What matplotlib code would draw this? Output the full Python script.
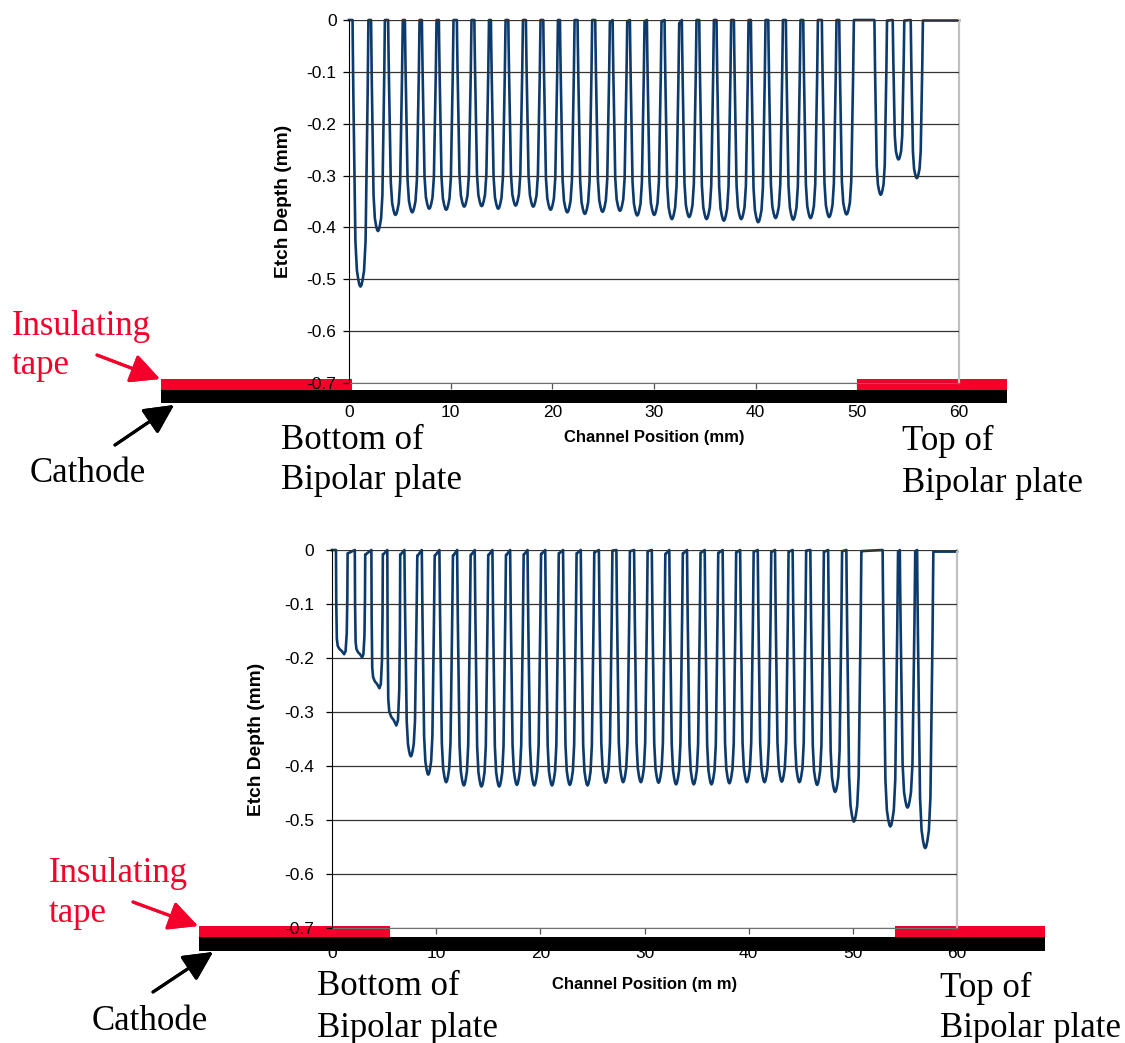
import numpy as np
import matplotlib
matplotlib.use('Agg')
import matplotlib.pyplot as plt
from matplotlib.patches import Rectangle

plt.rcParams['font.family'] = ['Liberation Sans', 'DejaVu Sans']
plt.rcParams['axes.unicode_minus'] = False

W, H = 1125, 1043

# -------------------------------
# channel data
# -------------------------------
# top panel: centre (mm), depth (mm), half width (mm), shape
top_centers = [1.13, 2.85, 4.57, 6.22, 7.89, 9.56, 11.33, 13.05, 14.68, 16.39,
               18.12, 19.83, 21.47, 23.2, 24.94, 26.65, 28.35, 30.02, 31.76, 33.46,
               35.17, 36.87, 38.58, 40.25, 41.96, 43.69, 45.4, 47.23, 48.94,
               52.3, 54.05, 55.85]
top_depths = [-0.514, -0.407, -0.376, -0.371, -0.364, -0.366, -0.36, -0.359, -0.364, -0.358,
              -0.36, -0.366, -0.371, -0.374, -0.37, -0.368, -0.377, -0.376, -0.384, -0.38,
              -0.384, -0.387, -0.384, -0.39, -0.382, -0.385, -0.382, -0.38, -0.375,
              -0.337, -0.269, -0.305]
top_halfw = [0.78, 0.68, 0.72, 0.72, 0.72, 0.72, 0.72, 0.72, 0.72, 0.72,
             0.72, 0.72, 0.72, 0.72, 0.72, 0.72, 0.72, 0.72, 0.72, 0.72,
             0.72, 0.72, 0.72, 0.72, 0.72, 0.72, 0.72, 0.72, 0.72,
             0.62, 0.57, 0.6]
top_shapes = ['U'] * 32
# level of the land just right of each channel
top_lands = [0.0] * 14 + [-0.004] + [-0.002] * 3 + [-0.006] + [0.0] * 10 + [-0.001] * 3

# bottom panel
bot_centers = [0.94, 2.69, 4.33, 5.93, 7.57, 9.24, 10.96, 12.66, 14.35, 16.05,
               17.75, 19.42, 21.12, 22.83, 24.53, 26.27, 27.95, 29.65, 31.35, 33.03,
               34.73, 36.43, 38.15, 39.83, 41.52, 43.18, 44.87, 46.57, 48.3,
               50.1, 53.6, 55.25, 56.95]
bot_depths = [-0.193, -0.199, -0.256, -0.325, -0.382, -0.416, -0.43, -0.436, -0.438, -0.438,
              -0.435, -0.436, -0.436, -0.435, -0.436, -0.431, -0.43, -0.43, -0.431, -0.434,
              -0.434, -0.434, -0.432, -0.43, -0.43, -0.429, -0.43, -0.435, -0.448,
              -0.503, -0.512, -0.477, -0.552]
bot_halfw = [0.56, 0.5, 0.55, 0.62, 0.62, 0.62, 0.65, 0.65, 0.65, 0.65,
             0.65, 0.65, 0.65, 0.65, 0.65, 0.65, 0.65, 0.65, 0.65, 0.65,
             0.65, 0.65, 0.65, 0.65, 0.65, 0.65, 0.65, 0.65, 0.67,
             0.72, 0.74, 0.74, 0.78]
bot_shapes = ['flat', 'flat', 'flat', 'flat'] + ['U'] * 29
bot_lands = [-0.006, -0.008, -0.008, -0.008, -0.01, -0.01, -0.01, -0.009, -0.009, -0.009,
             -0.008, -0.007, -0.006, -0.006, -0.004, -0.001, -0.002, -0.002, -0.007, -0.006,
             -0.005, -0.005, -0.004, -0.003, -0.003, -0.003, -0.001, -0.003, -0.002,
             -0.002, -0.003, -0.002, -0.003]

# normalised channel cross sections (position across channel, fraction of depth)
u_t = [-1, -0.97, -0.9, -0.77, -0.64, -0.45, -0.27, -0.12, 0, 0.12, 0.27, 0.45, 0.64, 0.77, 0.9, 0.97, 1]
u_f = [0, 0.1, 0.28, 0.56, 0.83, 0.94, 0.975, 0.995, 1, 0.995, 0.975, 0.94, 0.83, 0.56, 0.28, 0.1, 0]
flat_t = [-1, -0.95, -0.85, -0.7, -0.4, 0, 0.4, 0.65, 0.85, 0.95, 1]
flat_f = [0, 0.5, 0.85, 0.92, 0.95, 0.97, 1.0, 0.97, 0.8, 0.45, 0]
TEMPLATES = {'U': (u_t, u_f), 'flat': (flat_t, flat_f)}

x_ticks = [0, 10, 20, 30, 40, 50, 60]
y_ticks = [0, -0.1, -0.2, -0.3, -0.4, -0.5, -0.6, -0.7]
y_ticklabels = ['0', '-0.1', '-0.2', '-0.3', '-0.4', '-0.5', '-0.6', '-0.7']

LINE_COLOR = '#0d3a6c'
RED = '#f5002a'


def profile(centers, depths, halfw, shapes, lands):
    xs, ys = [0.0], [0.0]
    for c, d, h, s, l in zip(centers, depths, halfw, shapes, lands):
        t, f = TEMPLATES[s]
        xs.extend(c + h * np.array(t))
        ys.extend(d * np.array(f))
        ys[-1] = l
        xs.append(c + h + 0.05)
        ys.append(l)
    xs.append(60.0)
    ys.append(ys[-1])
    return xs, ys


def fpx(x, y):
    # pixel position (from top-left) -> figure fraction
    return x / W, 1 - y / H


def make_panel(rect, centers, depths, halfw, shapes, lands, ypad, xpad, ylab_x, xlab_y, xlab_spaced, tape):
    ax = fig.add_axes(rect)
    xs, ys = profile(centers, depths, halfw, shapes, lands)
    ax.plot(xs, ys, color=LINE_COLOR, lw=1.9, zorder=3, solid_joinstyle='round', clip_on=False)
    ax.set_xlim(0, 60)
    ax.set_ylim(-0.7, 0)
    ax.set_xticks(x_ticks)
    ax.set_yticks(y_ticks)
    ax.set_yticklabels(y_ticklabels)
    ax.yaxis.grid(True, color='#333333', lw=0.9)
    ax.set_axisbelow(True)
    ax.tick_params(axis='y', direction='out', length=4, width=0.9, pad=ypad, labelsize=12.5)
    ax.tick_params(axis='x', direction='out', length=4, width=0.9, color='#555555', pad=xpad, labelsize=12.5)
    ax.spines['top'].set_visible(False)
    ax.spines['right'].set_color('#c0c0c0')
    ax.spines['right'].set_linewidth(1.6)
    ax.spines['bottom'].set_color('#707070')
    ax.spines['left'].set_color('black')
    for sp in ax.spines.values():
        sp.set_zorder(5)
    ax.yaxis.set_zorder(5)
    ax.set_ylabel('Etch Depth (mm)', fontsize=13.8, fontweight='bold')
    ax.yaxis.set_label_coords(ylab_x, 0.5)
    xlab = 'Channel Position (m m)' if xlab_spaced else 'Channel Position (mm)'
    ax.set_xlabel(xlab, fontsize=12, fontweight='bold')
    ax.xaxis.set_label_coords(0.5, xlab_y)

    # insulating tape and cathode bars below the axis
    left, red_r, red_l2, right, y0, y1, y2 = tape
    ax.add_patch(Rectangle((left, y1), red_r - left, y0 - y1, color=RED, clip_on=False, zorder=4, lw=0))
    ax.add_patch(Rectangle((red_l2, y1), right - red_l2, y0 - y1, color=RED, clip_on=False, zorder=4, lw=0))
    ax.add_patch(Rectangle((left, y2), right - left, y1 - y2, color='black', clip_on=False, zorder=4, lw=0))
    return ax


fig = plt.figure(figsize=(W / 100, H / 100), dpi=100)

make_panel([349 / W, 1 - 383 / H, 610 / W, 363 / H],
           top_centers, top_depths, top_halfw, top_shapes, top_lands,
           ypad=5, xpad=12, ylab_x=-0.094, xlab_y=-0.13, xlab_spaced=False,
           tape=(-18.5, 0.3, 49.95, 64.7, -0.692, -0.713, -0.738))
make_panel([332 / W, 1 - 928 / H, 625 / W, 378 / H],
           bot_centers, bot_depths, bot_halfw, bot_shapes, bot_lands,
           ypad=9, xpad=9, ylab_x=-0.107, xlab_y=-0.13, xlab_spaced=True,
           tape=(-12.8, 5.57, 54.0, 68.4, -0.696, -0.717, -0.743))

# -------------------------------
# annotations
# -------------------------------
serif = dict(family=['Liberation Serif', 'DejaVu Serif'], fontsize=25, va='baseline')

labels = [
    (12, 335, 'Insulating', RED), (12, 374, 'tape', RED),
    (30, 482, 'Cathode', 'black'),
    (281, 449, 'Bottom of', 'black'), (281, 489, 'Bipolar plate', 'black'),
    (902, 450, 'Top of', 'black'), (902, 492, 'Bipolar plate', 'black'),
    (49, 882, 'Insulating', RED), (49, 922, 'tape', RED),
    (92, 1030, 'Cathode', 'black'),
    (317, 995, 'Bottom of', 'black'), (317, 1037, 'Bipolar plate', 'black'),
    (940, 997, 'Top of', 'black'), (940, 1037, 'Bipolar plate', 'black'),
]
for x, y, s, c in labels:
    fx, fy = fpx(x, y)
    fig.text(fx, fy, s, color=c, **serif)

arrows = [
    ((97, 355), (160, 379), RED),
    ((115, 445), (174, 405), 'black'),
    ((133, 902), (198, 926), RED),
    ((153, 992), (213, 952), 'black'),
]
for (x0, y0), (x1, y1), c in arrows:
    fig.add_artist(plt.annotate('', xy=fpx(x1, y1), xytext=fpx(x0, y0),
                                xycoords='figure fraction', textcoords='figure fraction',
                                arrowprops=dict(arrowstyle='-|>,head_length=0.9,head_width=0.45',
                                                color=c, lw=2.2, mutation_scale=20,
                                                shrinkA=0, shrinkB=0)))

plt.savefig('out.png', dpi=100)
